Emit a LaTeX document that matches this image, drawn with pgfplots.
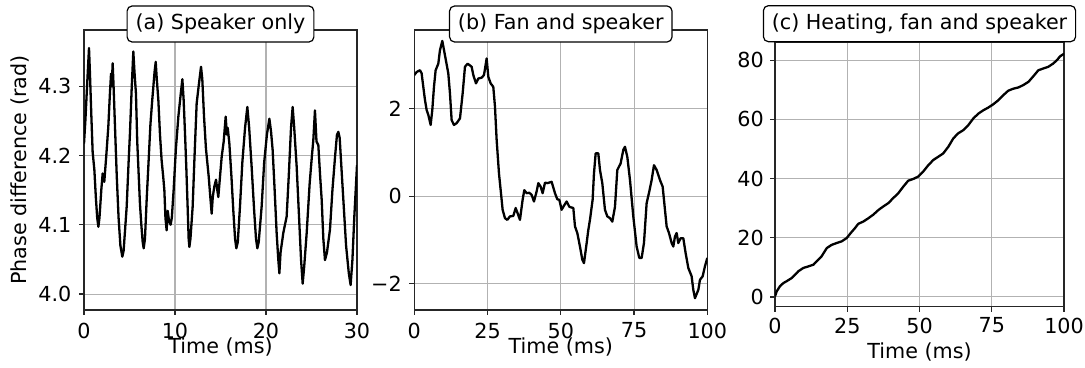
\documentclass[border=0pt]{standalone}
\usepackage{fontspec}
\setmainfont{DejaVu Sans}
\usepackage{pgfplots}
\pgfplotsset{compat=1.18}
\pgfplotsset{
  myax/.style={
    scale only axis,
    anchor=south west,
    axis line style={line width=0.6pt, black!85},
    grid=major,
    major grid style={line width=0.55pt, black!30},
    tick align=outside,
    major tick length=2.5pt,
    tick style={line width=0.6pt, black!85},
    xtick pos=bottom,
    ytick pos=left,
    /pgf/number format/assume math mode=true,
    xticklabel style={inner sep=0pt, anchor=north, yshift=-3.7pt},
    yticklabel style={inner sep=0pt, anchor=east, xshift=-3.6pt},
    title style={at={(0.5,1)}, anchor=center, yshift=-3pt, draw=black, fill=white,
      rounded corners=2.5pt, inner xsep=4.2pt, inner ysep=4pt, line width=0.6pt},
    xlabel style={at={(axis description cs:0.5,0)}, anchor=center, yshift=-18.5pt},
  },
  myplot/.style={black, line width=1.15pt, line join=round, mark=none},
}
\begin{document}%
\fontsize{10.35pt}{12.4pt}\selectfont%
\begin{tikzpicture}
\useasboundingbox (0,0) rectangle (542.5pt,184pt);
% (a)
\begin{axis}[myax, at={(42pt,29pt)}, width=136.5pt, height=140pt,
  xmin=0, xmax=30, ymin=3.977, ymax=4.381,
  xtick={0,10,20,30}, ytick={4.0,4.1,4.2,4.3}, yticklabels={4.0,4.1,4.2,4.3},
  xlabel={Time (ms)}, ylabel={Phase difference (rad)},
  ylabel style={at={(axis description cs:-0.2344,0.5)}, anchor=center},
  title={(a) Speaker only}]
\addplot[myplot] coordinates {
(0,4.217)(0.15,4.25)(0.3,4.29)(0.45,4.33)(0.55,4.355)(0.65,4.32)(0.8,4.26)(0.95,4.205)
(1.14,4.179)(1.3,4.14)(1.45,4.11)(1.58,4.097)(1.7,4.11)(1.9,4.15)(2.05,4.174)(2.23,4.162)
(2.45,4.20)(2.67,4.241)(2.85,4.29)(2.97,4.318)(3.05,4.30)(3.15,4.333)(3.25,4.30)(3.41,4.240)
(3.6,4.17)(3.8,4.11)(4.0,4.07)(4.21,4.054)(4.35,4.062)(4.5,4.09)(4.69,4.126)(4.9,4.19)
(5.05,4.232)(5.25,4.30)(5.42,4.350)(5.55,4.32)(5.71,4.289)(5.85,4.22)(5.97,4.184)(6.15,4.13)
(6.3,4.10)(6.45,4.075)(6.56,4.066)(6.7,4.08)(6.9,4.14)(7.07,4.184)(7.3,4.245)(7.5,4.28)
(7.62,4.299)(7.75,4.32)(7.88,4.335)(8.0,4.31)(8.17,4.28)(8.35,4.23)(8.53,4.193)(8.7,4.17)
(8.83,4.150)(8.95,4.11)(9.08,4.092)(9.2,4.12)(9.35,4.105)(9.52,4.100)(9.65,4.11)(9.85,4.15)
(10.1,4.21)(10.37,4.256)(10.6,4.285)(10.81,4.310)(10.95,4.28)(11.1,4.232)(11.25,4.18)
(11.39,4.125)(11.5,4.08)(11.58,4.068)(11.7,4.08)(11.94,4.126)(12.15,4.20)(12.38,4.275)
(12.6,4.30)(12.86,4.328)(13.0,4.31)(13.19,4.256)(13.4,4.21)(13.55,4.19)(13.7,4.17)
(13.85,4.145)(14.03,4.116)(14.15,4.14)(14.32,4.155)(14.51,4.165)(14.65,4.15)(14.76,4.140)
(14.95,4.17)(15.13,4.198)(15.35,4.22)(15.57,4.256)(15.7,4.23)(15.79,4.240)(15.97,4.218)
(16.2,4.17)(16.41,4.12)(16.6,4.08)(16.74,4.066)(16.9,4.075)(17.14,4.126)(17.4,4.19)
(17.7,4.24)(17.95,4.270)(18.15,4.24)(18.42,4.184)(18.7,4.12)(18.9,4.08)(19.05,4.066)
(19.2,4.075)(19.52,4.126)(19.8,4.19)(20.1,4.23)(20.37,4.253)(20.55,4.235)(20.73,4.208)
(20.95,4.15)(21.17,4.088)(21.35,4.05)(21.47,4.030)(21.6,4.06)(21.9,4.088)(22.27,4.112)
(22.5,4.17)(22.75,4.24)(22.93,4.270)(23.1,4.24)(23.37,4.184)(23.6,4.12)(23.85,4.05)
(24.03,4.015)(24.2,4.04)(24.47,4.088)(24.8,4.16)(25.05,4.20)(25.2,4.222)(25.38,4.265)
(25.55,4.22)(25.75,4.215)(25.95,4.17)(26.12,4.136)(26.3,4.08)(26.48,4.049)(26.7,4.06)
(27.03,4.093)(27.3,4.15)(27.6,4.20)(27.8,4.23)(27.95,4.234)(28.1,4.225)(28.3,4.18)
(28.5,4.136)(28.8,4.07)(29.1,4.03)(29.3,4.013)(29.5,4.05)(29.7,4.11)(30,4.186)
};
\end{axis}
% (b)
\begin{axis}[myax, at={(207.15pt,29pt)}, width=146.5pt, height=140pt,
  xmin=0, xmax=100, ymin=-2.6, ymax=3.8,
  xtick={0,25,50,75,100}, ytick={-2,0,2}, yticklabels={−2,0,2},
  xlabel={Time (ms)},
  title={(b) Fan and speaker}]
\addplot[myplot] coordinates {
(0,2.77)(0.80,2.84)(1.93,2.88)(2.50,2.81)(3.07,2.50)(3.64,2.20)(4.21,1.97)(4.78,1.86)
(5.58,1.63)(6.14,1.97)(6.71,2.50)(7.28,2.88)(8.19,3.03)(8.76,3.34)(9.56,3.55)(10.47,3.22)
(11.6,2.81)(12.17,2.35)(12.74,1.74)(13.54,1.63)(14.45,1.67)(15.59,1.78)(16.5,2.35)
(17.29,2.96)(18.2,3.03)(19.0,2.99)(19.57,2.96)(20.14,2.77)(21.05,2.58)(21.84,2.69)
(22.98,2.71)(23.78,2.77)(24.69,3.15)(25.26,2.73)(26.05,2.58)(26.96,2.50)(27.53,2.05)
(28.1,1.29)(28.9,0.52)(29.58,0.07)(30.15,-0.31)(30.94,-0.50)(31.74,-0.54)(32.65,-0.46)
(33.79,-0.45)(34.59,-0.27)(35.27,-0.39)(36.06,-0.54)(36.97,-0.08)(37.54,0.14)(38.34,0.07)
(39.25,0.08)(40.05,0.03)(40.84,-0.12)(41.75,0.11)(42.32,0.30)(43.12,0.22)(43.8,0.07)
(44.6,0.31)(45.51,0.30)(46.87,0.33)(48.01,0.07)(48.81,-0.07)(49.49,-0.08)(50.28,-0.31)
(50.85,-0.24)(51.99,-0.12)(52.9,-0.24)(54.27,-0.27)(54.84,-0.69)(55.63,-0.84)(56.54,-1.15)
(57.34,-1.45)(57.91,-1.53)(58.82,-1.07)(59.39,-0.77)(59.95,-0.54)(60.86,-0.08)(61.32,0.52)
(61.89,0.98)(62.8,0.98)(63.37,0.60)(64.16,0.30)(65.07,-0.31)(65.87,-0.46)(66.78,-0.50)
(67.58,-0.58)(68.49,-0.24)(69.28,0.60)(70.42,0.75)(71.33,1.06)(71.9,1.13)(72.7,0.90)
(73.61,0.37)(74.74,-0.46)(75.88,-1.15)(76.79,-1.41)(77.59,-1.41)(78.38,-1.07)(79.29,-0.16)
(80.2,0.11)(81.0,0.37)(81.8,0.71)(82.71,0.60)(83.85,0.37)(84.76,0.22)(85.55,-0.31)
(86.12,-0.69)(86.92,-0.84)(87.83,-1.07)(88.4,-1.15)(88.96,-0.92)(89.53,-0.84)(90.1,-1.07)
(90.9,-0.96)(91.81,-0.96)(92.6,-1.30)(93.52,-1.64)(94.65,-1.83)(95.22,-2.14)(95.79,-2.33)
(96.93,-2.14)(97.5,-1.91)(98.41,-1.83)(99.2,-1.60)(100,-1.41)
};
\end{axis}
% (c)
\begin{axis}[myax, at={(387.5pt,30.65pt)}, width=144.5pt, height=132.1pt,
  xmin=0, xmax=100, ymin=-3.3, ymax=86,
  xtick={0,25,50,75,100}, ytick={0,20,40,60,80},
  xlabel={Time (ms)},
  xticklabel style={yshift=0.9pt}, yticklabel style={xshift=0.7pt},
  xlabel style={yshift=-4.4pt},
  title style={yshift=6.4pt},
  title={(c) Heating, fan and speaker}]
\addplot[myplot] coordinates {
(0,0.2)(0.6,1.9)(1.7,3.6)(2.9,4.7)(4.0,5.3)(5.8,6.4)(6.9,7.5)(8.1,8.7)(9.8,9.8)
(11.5,10.3)(13.3,10.9)(14.4,12.0)(16.1,13.7)(17.9,16.5)(19.6,17.6)(21.3,18.2)(23.1,18.8)
(24.8,19.9)(26.2,21.6)(27.7,23.3)(28.8,24.7)(30.6,25.5)(32.3,26.6)(34.0,27.8)(35.8,29.4)
(37.5,30.6)(39.2,31.7)(40.9,33.4)(42.7,35.1)(44.4,37.3)(46.1,39.3)(47.9,39.9)(49.6,40.7)
(51.3,42.4)(53.1,44.6)(54.8,46.3)(56.5,47.4)(58.2,48.5)(60.0,50.8)(61.7,53.6)(63.4,55.3)
(65.2,56.4)(66.9,58.1)(68.6,60.3)(70.4,62.0)(72.1,63.1)(73.8,64.0)(75.5,65.1)(77.3,66.5)
(79.0,68.2)(80.7,69.7)(82.5,70.4)(84.2,70.8)(85.9,71.6)(87.7,72.7)(89.4,74.6)(91.1,76.6)
(92.8,77.2)(94.6,77.8)(96.3,78.9)(97.7,80.2)(98.6,81.3)(100,82.2)
};
\end{axis}
\end{tikzpicture}%
\end{document}
